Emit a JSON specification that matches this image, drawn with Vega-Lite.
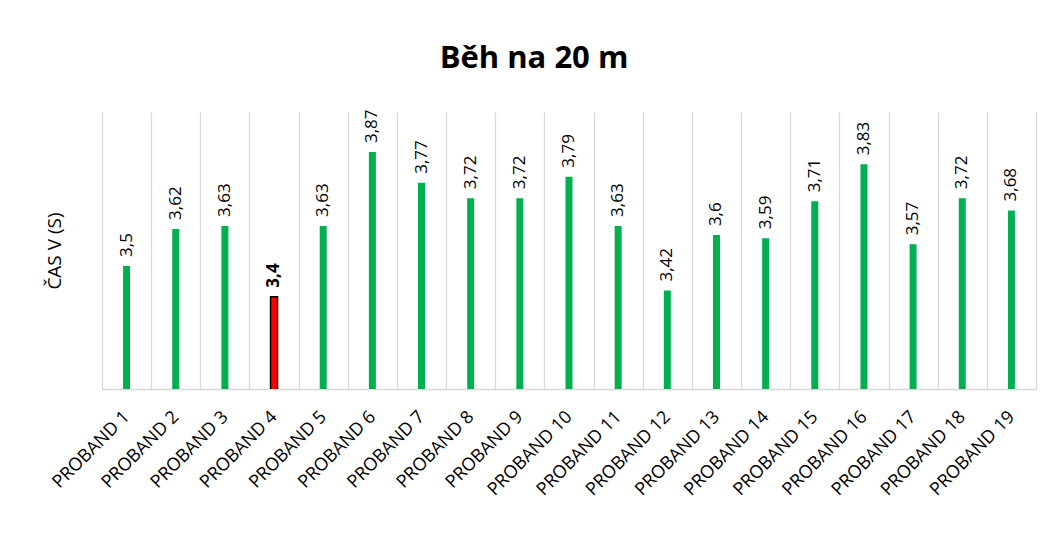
{
  "$schema": "https://vega.github.io/schema/vega-lite/v6.json",
  "width": 934,
  "height": 277,
  "autosize": {"type": "none"},
  "padding": {"left": 102, "top": 112, "right": 17, "bottom": 147},
  "background": "white",
  "title": {
    "text": "Běh na 20 m",
    "font": "Open Sans",
    "fontSize": 31,
    "fontWeight": "bold",
    "color": "#000000",
    "anchor": "middle",
    "frame": "group",
    "dx": -35,
    "offset": 34
  },
  "config": {
    "view": {"stroke": null},
    "locale": {
      "number": {"decimal": ",", "thousands": " ", "grouping": [3], "currency": ["", " Kč"]}
    }
  },
  "data": {
    "values": [
      {"proband": "PROBAND 1", "cas": 3.5},
      {"proband": "PROBAND 2", "cas": 3.62},
      {"proband": "PROBAND 3", "cas": 3.63},
      {"proband": "PROBAND 4", "cas": 3.4},
      {"proband": "PROBAND 5", "cas": 3.63},
      {"proband": "PROBAND 6", "cas": 3.87},
      {"proband": "PROBAND 7", "cas": 3.77},
      {"proband": "PROBAND 8", "cas": 3.72},
      {"proband": "PROBAND 9", "cas": 3.72},
      {"proband": "PROBAND 10", "cas": 3.79},
      {"proband": "PROBAND 11", "cas": 3.63},
      {"proband": "PROBAND 12", "cas": 3.42},
      {"proband": "PROBAND 13", "cas": 3.6},
      {"proband": "PROBAND 14", "cas": 3.59},
      {"proband": "PROBAND 15", "cas": 3.71},
      {"proband": "PROBAND 16", "cas": 3.83},
      {"proband": "PROBAND 17", "cas": 3.57},
      {"proband": "PROBAND 18", "cas": 3.72},
      {"proband": "PROBAND 19", "cas": 3.68}
    ]
  },
  "encoding": {
    "x": {
      "field": "proband",
      "type": "nominal",
      "sort": null,
      "scale": {"paddingInner": 0, "paddingOuter": 0},
      "axis": {
        "title": null,
        "labelAngle": -45,
        "labelAlign": "right",
        "labelBaseline": "middle",
        "labelFont": "Open Sans",
        "labelFontSize": 18,
        "labelColor": "#000000",
        "labelPadding": 25,
        "labelOverlap": false,
        "ticks": false,
        "tickBand": "extent",
        "grid": true,
        "gridColor": "#d9d9d9",
        "gridWidth": 1.3,
        "domainColor": "#d9d9d9",
        "domainWidth": 1.5
      }
    },
    "y": {
      "field": "cas",
      "type": "quantitative",
      "scale": {"domain": [3.1, 4.0], "zero": false, "nice": false},
      "axis": {
        "title": "ČAS V (S)",
        "titleFont": "Open Sans",
        "titleFontSize": 19,
        "titleFontWeight": "normal",
        "titleColor": "#000000",
        "titlePadding": 38,
        "labels": false,
        "ticks": false,
        "domain": false,
        "grid": false
      }
    }
  },
  "layer": [
    {
      "mark": {"type": "bar", "width": 7, "clip": true},
      "encoding": {
        "color": {
          "condition": {"test": "datum.proband === 'PROBAND 4'", "value": "#ff0000"},
          "value": "#00b050"
        },
        "stroke": {
          "condition": {"test": "datum.proband === 'PROBAND 4'", "value": "#000000"},
          "value": null
        },
        "strokeWidth": {
          "condition": {"test": "datum.proband === 'PROBAND 4'", "value": 1.5},
          "value": 0
        }
      }
    },
    {
      "transform": [{"filter": "datum.proband !== 'PROBAND 4'"}],
      "mark": {
        "type": "text",
        "angle": 270,
        "align": "left",
        "baseline": "middle",
        "dx": 9,
        "font": "Open Sans",
        "fontSize": 17,
        "color": "#000000"
      },
      "encoding": {
        "text": {"field": "cas", "type": "quantitative", "format": ".3~g"}
      }
    },
    {
      "transform": [{"filter": "datum.proband === 'PROBAND 4'"}],
      "mark": {
        "type": "text",
        "angle": 270,
        "align": "left",
        "baseline": "middle",
        "dx": 9,
        "font": "Open Sans",
        "fontSize": 17,
        "fontWeight": "bold",
        "color": "#000000"
      },
      "encoding": {
        "text": {"field": "cas", "type": "quantitative", "format": ".3~g"}
      }
    }
  ]
}
